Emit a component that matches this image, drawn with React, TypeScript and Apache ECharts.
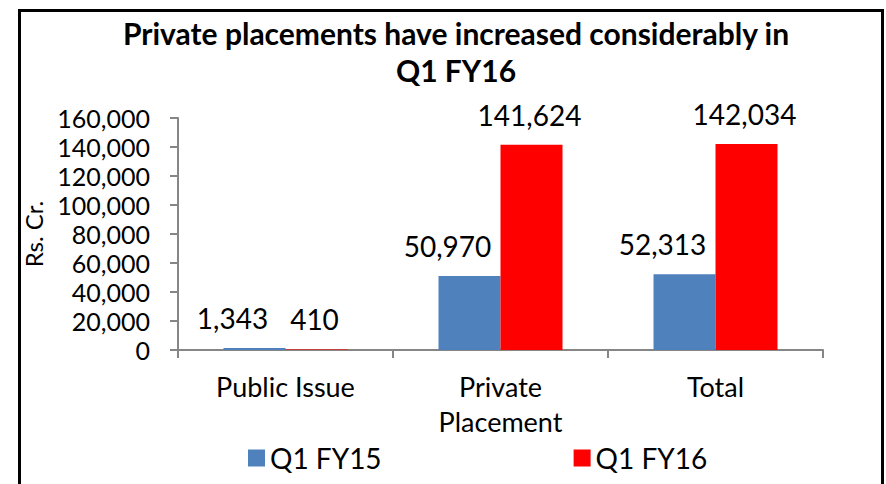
import React, { useEffect, useRef } from "react";
import * as echarts from "echarts";

const categories = ["Public Issue", "Private\nPlacement", "Total"];
const seriesNames = ["Q1 FY15", "Q1 FY16"];
const q1fy15 = [1343, 50970, 52313];
const q1fy16 = [410, 141624, 142034];
const titleText = "Private placements have increased considerably in\nQ1 FY16";

const FONT = "Lato";
const fmt = (v: number) => v.toLocaleString("en-US");

export default function App() {
  const ref = useRef<HTMLDivElement>(null);
  useEffect(() => {
    if (!ref.current) return;
    const chart = echarts.init(ref.current, undefined, { renderer: "svg" });
    chart.setOption({
      animation: false,
      backgroundColor: "#ffffff",
      textStyle: { fontFamily: FONT },
      title: {
        text: titleText,
        top: 9,
        textAlign: "center",
        left: 451,
        textStyle: {
          fontFamily: FONT,
          fontWeight: "bold",
          fontSize: 30,
          lineHeight: 37,
          color: "#000",
        },
      },
      graphic: [
        {
          type: "rect",
          shape: { x: 19.5, y: 10.5, width: 863, height: 490 },
          style: { fill: "none", stroke: "#000", lineWidth: 3 },
          silent: true,
        },
      ],
      legend: {
        left: 243,
        top: 439,
        itemWidth: 17,
        itemHeight: 17,
        itemGap: 192,
        icon: "rect",
        textStyle: { fontFamily: FONT, fontSize: 28, color: "#000" },
        data: seriesNames,
      },
      grid: { left: 178, right: 63, top: 118, bottom: 134, containLabel: false },
      xAxis: {
        type: "category",
        data: categories,
        axisLine: { lineStyle: { color: "#868686", width: 2 } },
        axisTick: { show: true, length: 8, interval: 0, lineStyle: { color: "#868686", width: 2 } },
        axisLabel: {
          fontFamily: FONT,
          fontSize: 27,
          color: "#000",
          margin: 19,
          lineHeight: 35,
          interval: 0,
        },
      },
      yAxis: {
        type: "value",
        min: 0,
        max: 160000,
        interval: 20000,
        name: "Rs. Cr.",
        nameLocation: "middle",
        nameGap: 133,
        nameRotate: 90,
        nameTextStyle: { fontFamily: FONT, fontSize: 24, color: "#000" },
        axisLine: { show: true, lineStyle: { color: "#868686", width: 2 } },
        axisTick: { show: true, length: 8, lineStyle: { color: "#868686", width: 2 } },
        splitLine: { show: false },
        axisLabel: {
          fontFamily: FONT,
          fontSize: 25,
          color: "#000",
          margin: 28,
          formatter: (v: number) => fmt(v),
        },
      },
      series: [
        {
          name: seriesNames[0],
          type: "bar",
          data: q1fy15,
          barWidth: 62,
          barGap: "0%",
          itemStyle: { color: "#4F81BD" },
          label: {
            show: true,
            position: "top",
            distance: 16,
            offset: [-22, 0],
            fontFamily: FONT,
            fontSize: 28,
            color: "#000",
            formatter: (p: any) => fmt(p.value),
          },
        },
        {
          name: seriesNames[1],
          type: "bar",
          data: q1fy16,
          barWidth: 62,
          barGap: "0%",
          itemStyle: { color: "#FF0000" },
          label: {
            show: true,
            position: "top",
            distance: 16,
            offset: [-2, 0],
            fontFamily: FONT,
            fontSize: 28,
            color: "#000",
            formatter: (p: any) => fmt(p.value),
          },
        },
      ],
    });
    return () => chart.dispose();
  }, []);
  return (
    <div
      ref={ref}
      style={{ position: "fixed", left: 0, top: 0, width: 886, height: 484 }}
    />
  );
}
